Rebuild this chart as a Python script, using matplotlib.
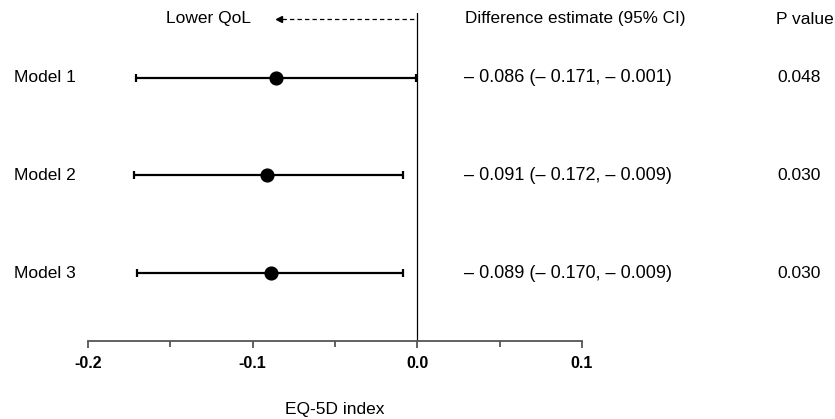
import matplotlib
matplotlib.use("Agg")
import matplotlib.pyplot as plt
from matplotlib.transforms import blended_transform_factory

plt.rcParams['font.family'] = ['Liberation Sans', 'DejaVu Sans']

models = ["Model 1", "Model 2", "Model 3"]
estimates = [-0.086, -0.091, -0.089]
ci_low = [-0.171, -0.172, -0.170]
ci_high = [-0.001, -0.009, -0.009]
p_values = ["0.048", "0.030", "0.030"]
xticks = [-0.2, -0.1, 0.0, 0.1]
xtick_labels = ["-0.2", "-0.1", "0.0", "0.1"]
minor_ticks = [-0.15, -0.05, 0.05]

W, H = 835, 419
fig = plt.figure(figsize=(W / 100, H / 100), dpi=100)

# axes in pixel layout
ax_left, ax_right = 88, 582
ax_top, ax_bottom = 13, 341
ax = fig.add_axes([ax_left / W, 1 - ax_bottom / H, (ax_right - ax_left) / W, (ax_bottom - ax_top) / H])

row_px = [78, 176, 273]
spacing = (row_px[-1] - row_px[0]) / 2
ypos = list(range(1, len(models) + 1))
y_top = 1 - (row_px[0] - ax_top) / spacing
y_bot = len(models) + (ax_bottom - row_px[-1]) / spacing
ax.set_ylim(y_bot, y_top)
ax.set_xlim(-0.2, 0.1)

def fmt(v):
    return ("\u2013 %.3f" % abs(v)) if v < 0 else "%.3f" % v

for y, est, lo, hi in zip(ypos, estimates, ci_low, ci_high):
    ax.errorbar(est, y, xerr=[[est - lo], [hi - est]], fmt='o', color='black',
                markersize=9.2, elinewidth=1.6, capsize=2.6, capthick=1.6, zorder=3)

ax.axvline(0, color='black', lw=0.9, zorder=2)

# spines
for s in ['top', 'right', 'left']:
    ax.spines[s].set_visible(False)
ax.spines['bottom'].set_color('#555555')
ax.spines['bottom'].set_linewidth(1.3)
ax.set_yticks([])
ax.set_xticks(xticks)
ax.set_xticklabels(xtick_labels, fontweight='bold', fontsize=11.5)
ax.set_xticks(minor_ticks, minor=True)
ax.tick_params(axis='x', which='major', length=5, width=1.3, color='#555555', pad=6)
ax.tick_params(axis='x', which='minor', length=4, width=1.3, color='#555555')
ax.set_xlabel("EQ-5D index", fontsize=12.5, labelpad=22)

# header row
header_y = 1 - (row_px[0] - 19) / spacing
tip_x = (275 - 417) / (164.5 / 0.1)
ax.plot([tip_x + 0.004, 0], [header_y, header_y], color='black', lw=0.9,
        linestyle=(0, (3.5, 2.5)), clip_on=False)
ax.plot([tip_x + 0.0025], [header_y], marker='<', color='black', markersize=5, clip_on=False)
ax.text(-0.101, header_y, "Lower QoL", ha='right', va='center', fontsize=12.5)

tr = blended_transform_factory(fig.transFigure, ax.transData)
fig.text(465 / W, 1 - 19 / H, "Difference estimate (95% CI)", ha='left', va='center', fontsize=12.3)
fig.text(776 / W, 1 - 19 / H, "P value", ha='left', va='center', fontsize=12.5)

for y, name, est, lo, hi, p in zip(ypos, models, estimates, ci_low, ci_high, p_values):
    ax.text(14 / W, y, name, transform=tr, ha='left', va='center', fontsize=12.5)
    ax.text(464 / W, y, "%s (%s, %s)" % (fmt(est), fmt(lo), fmt(hi)), transform=tr,
            ha='left', va='center', fontsize=13)
    ax.text(777 / W, y, p, transform=tr, ha='left', va='center', fontsize=12.5)

fig.savefig("out.png", dpi=100)
